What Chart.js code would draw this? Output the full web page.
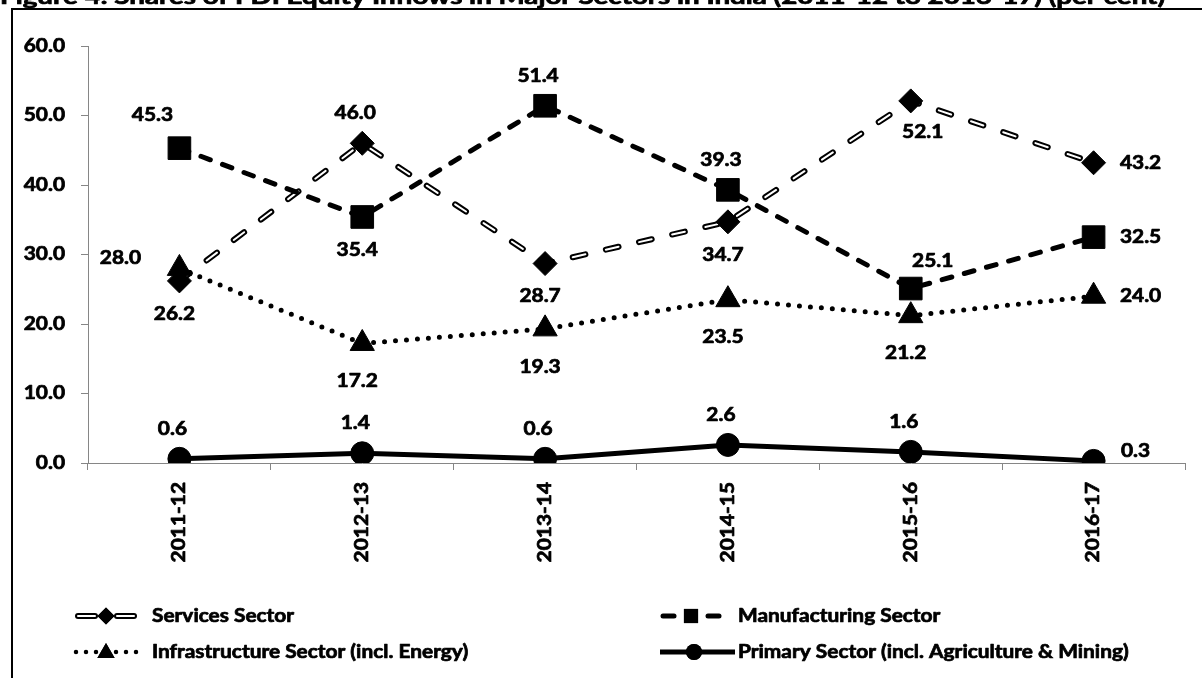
<!DOCTYPE html>
<html>
<head>
<meta charset="utf-8">
<script src="https://cdn.jsdelivr.net/npm/chart.js@4.4.1/dist/chart.umd.min.js"></script>
<style>
  html, body { margin: 0; padding: 0; background: #fff; overflow: hidden; }
  #wrap { width: 1202px; height: 678px; position: relative; }
  canvas { display: block; }
</style>
</head>
<body>
<div id="wrap"><canvas id="chart" width="1202" height="678"></canvas></div>
<script>
// ---- data ----
const years = ['2011-12', '2012-13', '2013-14', '2014-15', '2015-16', '2016-17'];
const services = [26.2, 46.0, 28.7, 34.7, 52.1, 43.2];
const manufacturing = [45.3, 35.4, 51.4, 39.3, 25.1, 32.5];
const infrastructure = [28.0, 17.2, 19.3, 23.5, 21.2, 24.0];
const primary = [0.6, 1.4, 0.6, 2.6, 1.6, 0.3];
const yTicks = [0, 10, 20, 30, 40, 50, 60];
const seriesNames = [
  'Services Sector',
  'Manufacturing Sector',
  'Infrastructure Sector (incl. Energy)',
  'Primary Sector (incl. Agriculture & Mining)'
];
const titleText = 'Figure 4: Shares of FDI Equity Inflows in Major Sectors in India (2011-12 to 2016-17) (per cent)';

// ---- styling ----
const INK = '#000000';
const AXIS = '#868686';
const FONT = 'Lato, "Open Sans", sans-serif';
const TEXT_SIZE = 18;
const STRETCH = 1.16;   // wide bold face

// where each value label sits relative to its marker: [dx, dy] of label centre
const labelOffsets = {
  above: [-7, -30], below: [-5, 33], belowTri: [-5, 38], left: [-59, -10],
  right: [47, 0], rightUp: [42, -10], aboveLeft: [-27, -33],
  belowRight: [12, 31], aboveRight: [22, -27]
};
const servicesLabelPos = ['below', 'above', 'below', 'below', 'belowRight', 'right'];
const manufacturingLabelPos = ['aboveLeft', 'below', 'above', 'above', 'aboveRight', 'right'];
const infrastructureLabelPos = ['left', 'belowTri', 'belowTri', 'belowTri', 'belowTri', 'right'];
const primaryLabelPos = ['above', 'above', 'above', 'above', 'above', 'rightUp'];

function wideText(ctx, text, x, y, align, baseline, size, sx) {
  ctx.save();
  ctx.translate(x, y);
  ctx.scale(sx, 1);
  ctx.font = 'bold ' + size + 'px ' + FONT;
  ctx.fillStyle = INK;
  ctx.strokeStyle = INK;
  ctx.lineWidth = 0.7;
  ctx.lineJoin = 'round';
  ctx.textAlign = align;
  ctx.textBaseline = baseline;
  ctx.fillText(text, 0, 0);
  ctx.strokeText(text, 0, 0);   // heavier strokes
  ctx.restore();
}

function seg(ctx, x1, y1, x2, y2, width, color, cap, dash) {
  ctx.save();
  ctx.beginPath();
  ctx.moveTo(x1, y1);
  ctx.lineTo(x2, y2);
  ctx.lineWidth = width;
  ctx.strokeStyle = color;
  ctx.lineCap = cap || 'butt';
  ctx.setLineDash(dash || []);
  ctx.stroke();
  ctx.restore();
}

function marker(ctx, style, x, y, r) {
  Chart.helpers.drawPoint(ctx, { pointStyle: style, radius: r, rotation: 0, borderWidth: 0 }, x, y);
  ctx.fillStyle = INK;
  ctx.fill();
}

const decorations = {
  id: 'decorations',
  afterDraw(chart) {
    const ctx = chart.ctx;
    const xs = chart.scales.x, ys = chart.scales.y;

    // outer frame (runs off the right and bottom edges)
    seg(ctx, 12, 700, 12, 9, 2, INK);
    seg(ctx, 11, 9, 1230, 9, 2, INK);

    // title, only its lower part falls inside the canvas
    ctx.save();
    ctx.font = 'bold 20px ' + FONT;
    const tw = ctx.measureText(titleText).width;
    ctx.restore();
    wideText(ctx, titleText, 0, 4, 'left', 'alphabetic', 20, 1165 / tw);

    // y tick labels
    yTicks.forEach(v => {
      wideText(ctx, v.toFixed(1), 65, ys.getPixelForValue(v), 'right', 'middle', TEXT_SIZE, STRETCH);
    });

    // x tick labels, rotated
    years.forEach((lab, i) => {
      ctx.save();
      ctx.translate(xs.getPixelForValue(i), 482);
      ctx.rotate(-Math.PI / 2);
      wideText(ctx, lab, 0, 0, 'right', 'middle', TEXT_SIZE, STRETCH);
      ctx.restore();
    });

    // value labels
    const groups = [
      [1, services, servicesLabelPos],
      [2, manufacturing, manufacturingLabelPos],
      [3, infrastructure, infrastructureLabelPos],
      [4, primary, primaryLabelPos]
    ];
    groups.forEach(([dsIndex, values, pos]) => {
      const meta = chart.getDatasetMeta(dsIndex);
      meta.data.forEach((pt, i) => {
        const off = labelOffsets[pos[i]];
        wideText(ctx, values[i].toFixed(1), pt.x + off[0], pt.y + off[1], 'center', 'middle', TEXT_SIZE, STRETCH);
      });
    });

    // legend
    const r1 = 616, r2 = 652;
    // Services: hollow dashes + diamond
    [[78, 95], [117, 134]].forEach(([a, b]) => {
      seg(ctx, a, r1, b, r1, 6, INK, 'round');
      seg(ctx, a, r1, b, r1, 2, '#fff', 'round');
    });
    marker(ctx, 'rectRot', 106, r1, 8.5);
    wideText(ctx, seriesNames[0], 152, r1, 'left', 'middle', TEXT_SIZE, STRETCH);
    // Infrastructure: dots + triangle
    seg(ctx, 76, r2, 137, r2, 4.5, INK, 'round', [0, 10]);
    marker(ctx, 'triangle', 106, r2 + 1, 10);
    wideText(ctx, seriesNames[2], 152, r2, 'left', 'middle', TEXT_SIZE, STRETCH);
    // Manufacturing: dashes + square
    seg(ctx, 663, r1, 674, r1, 5, INK, 'round');
    seg(ctx, 708, r1, 719, r1, 5, INK, 'round');
    marker(ctx, 'rect', 691, r1, 10);
    wideText(ctx, seriesNames[1], 738, r1, 'left', 'middle', TEXT_SIZE, STRETCH);
    // Primary: solid + circle
    seg(ctx, 660, r2, 735, r2, 5, INK, 'butt');
    marker(ctx, 'circle', 694, r2, 8);
    wideText(ctx, seriesNames[3], 738, r2, 'left', 'middle', TEXT_SIZE, STRETCH);
  }
};

const lineBase = {
  borderColor: INK,
  borderCapStyle: 'round',
  borderJoinStyle: 'round',
  pointBackgroundColor: INK,
  pointBorderColor: INK,
  pointBorderWidth: 1,
  pointHoverRadius: 0,
  tension: 0,
  fill: false
};

new Chart(document.getElementById('chart'), {
  type: 'line',
  data: {
    labels: years,
    datasets: [
      // 0: outline of the hollow services dashes
      Object.assign({}, lineBase, {
        label: seriesNames[0] + ' outline', data: services,
        borderWidth: 6, borderDash: [13, 21], pointRadius: 0, order: 5
      }),
      // 1: services inner stroke + diamonds
      Object.assign({}, lineBase, {
        label: seriesNames[0], data: services, borderColor: '#ffffff',
        borderWidth: 2, borderDash: [13, 21], pointStyle: 'rectRot', pointRadius: 12, order: 4
      }),
      // 2: manufacturing
      Object.assign({}, lineBase, {
        label: seriesNames[1], data: manufacturing,
        borderWidth: 5, borderDash: [10, 13], pointStyle: 'rect', pointRadius: 16, order: 2
      }),
      // 3: infrastructure
      Object.assign({}, lineBase, {
        label: seriesNames[2], data: infrastructure,
        borderWidth: 5, borderDash: [0, 11], pointStyle: 'triangle', pointRadius: 14, order: 3
      }),
      // 4: primary
      Object.assign({}, lineBase, {
        label: seriesNames[3], data: primary,
        borderWidth: 5, borderCapStyle: 'butt', pointStyle: 'circle', pointRadius: 11.5, order: 1
      })
    ]
  },
  options: {
    responsive: false,
    animation: false,
    devicePixelRatio: 1,
    layout: { padding: { left: 0, right: 5, top: 46, bottom: 0 } },
    plugins: {
      legend: { display: false },
      tooltip: { enabled: false },
      title: { display: false }
    },
    scales: {
      x: {
        type: 'category',
        offset: true,
        grid: { display: true, offset: true, drawOnChartArea: false, drawTicks: true, tickLength: 7, color: AXIS, lineWidth: 1 },
        border: { display: true, color: AXIS, width: 1 },
        ticks: { display: false },
        afterFit(s) { s.height = 678 - 463; }
      },
      y: {
        min: 0,
        max: 60,
        afterBuildTicks(s) { s.ticks = yTicks.map(v => ({ value: v })); },
        grid: { display: true, drawOnChartArea: false, drawTicks: true, tickLength: 7, color: AXIS, lineWidth: 1 },
        border: { display: true, color: AXIS, width: 1 },
        ticks: { display: false },
        afterFit(s) { s.width = 88; }
      }
    }
  },
  plugins: [decorations]
});
</script>
</body>
</html>
